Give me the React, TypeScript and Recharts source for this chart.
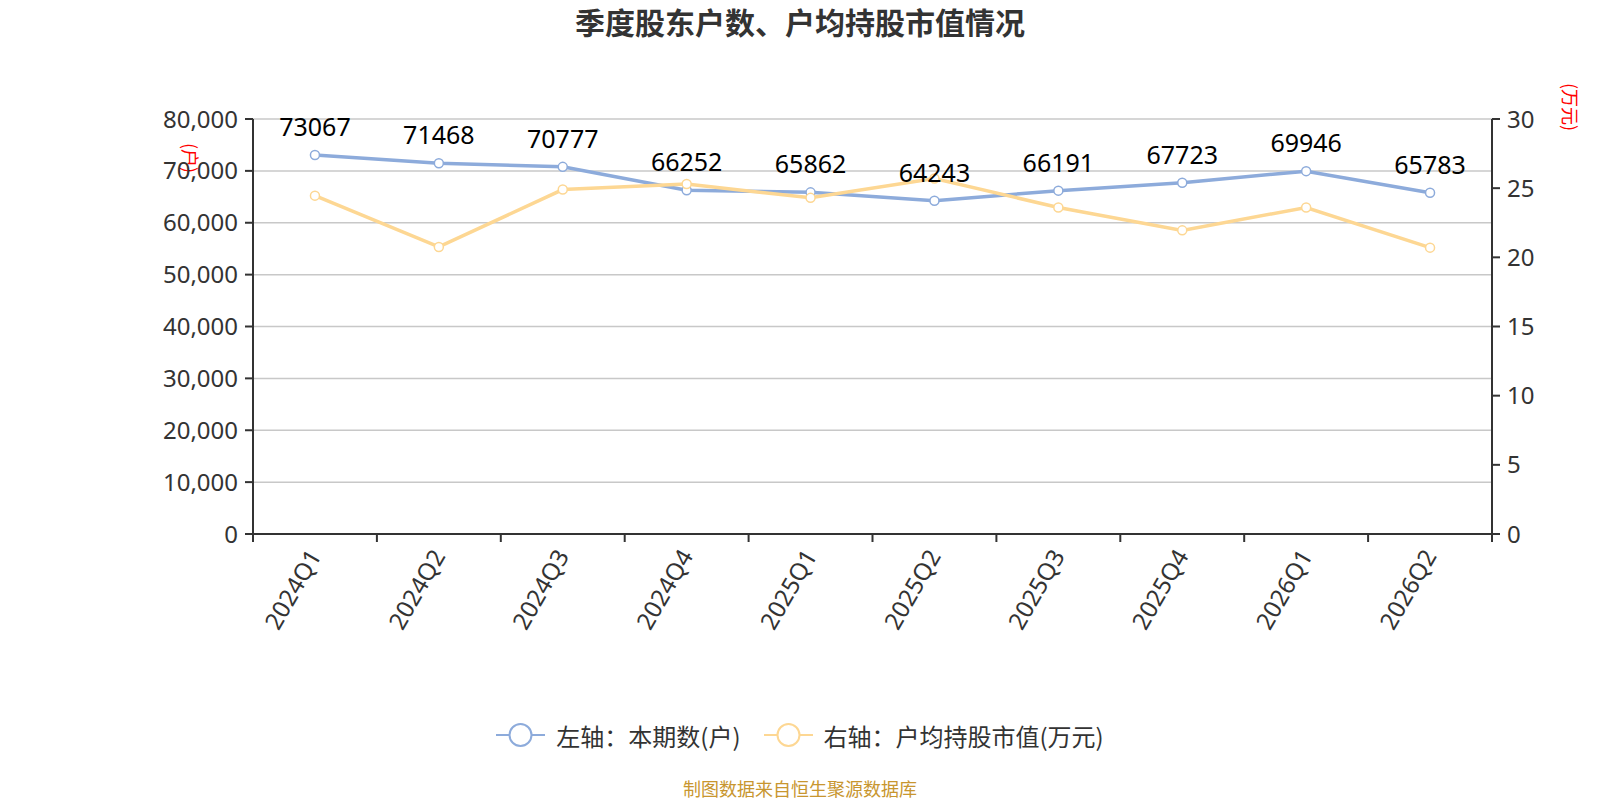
import React from "react";
import {
  LineChart,
  Line,
  XAxis,
  YAxis,
  CartesianGrid,
  Legend,
  LabelList,
} from "recharts";

const quarters = [
  "2024Q1",
  "2024Q2",
  "2024Q3",
  "2024Q4",
  "2025Q1",
  "2025Q2",
  "2025Q3",
  "2025Q4",
  "2026Q1",
  "2026Q2",
];
const holders = [73067, 71468, 70777, 66252, 65862, 64243, 66191, 67723, 69946, 65783];
const avgValue = [24.46, 20.75, 24.9, 25.3, 24.3, 25.7, 23.6, 21.95, 23.6, 20.7];

const leftTicks = [0, 10000, 20000, 30000, 40000, 50000, 60000, 70000, 80000];
const rightTicks = [0, 5, 10, 15, 20, 25, 30];

const seriesNames = ["左轴：本期数(户)", "右轴：户均持股市值(万元)"];

const BLUE = "#8dabdb";
const YELLOW = "#fdd793";
const FONT = '"Noto Sans", "Noto Sans CJK SC", sans-serif';
const CJK = '"Noto Sans CJK SC", "Noto Sans", sans-serif';

const data = quarters.map((q, i) => ({
  idx: i,
  quarter: q,
  holders: holders[i],
  avg: avgValue[i],
}));

// labels sit on the integers, tick marks on the half steps between bands
const xTicks: number[] = [];
quarters.forEach((_, i) => xTicks.push(i - 0.5, i));
xTicks.push(quarters.length - 0.5);

const XTick = (props: any) => {
  const { x, y, payload } = props;
  const v = payload.value;
  if (Number.isInteger(v)) {
    const tx = x - 1;
    const ty = y + 17;
    return (
      <text
        x={tx}
        y={ty}
        textAnchor="end"
        dominantBaseline="central"
        transform={`rotate(-60, ${tx}, ${ty})`}
        fontSize={24}
        fill="#333"
        fontFamily={FONT}
      >
        {quarters[v]}
      </text>
    );
  }
  return <line x1={x} y1={y} x2={x} y2={y + 8} stroke="#333" strokeWidth={2} />;
};

const renderLegend = (props: any) => {
  const items = [...props.payload].sort(
    (a: any, b: any) => seriesNames.indexOf(a.value) - seriesNames.indexOf(b.value)
  );
  return (
    <div
      style={{
        display: "flex",
        justifyContent: "center",
        alignItems: "center",
        height: 30,
        fontFamily: CJK,
        fontSize: 24,
        color: "#333",
      }}
    >
      {items.map((item: any, i: number) => (
        <div
          key={item.value}
          style={{ display: "flex", alignItems: "center", marginLeft: i ? 23 : 0 }}
        >
          <svg width={49} height={26} style={{ marginRight: 11 }}>
            <line x1={0} y1={13} x2={49} y2={13} stroke={item.color} strokeWidth={2} />
            <circle cx={24.5} cy={13} r={11} fill="#fff" stroke={item.color} strokeWidth={2} />
          </svg>
          <span>{item.value}</span>
        </div>
      ))}
    </div>
  );
};

const leftUnit = (props: any) => {
  const { viewBox } = props;
  const x = viewBox.x - 2;
  const y = viewBox.y + 39;
  return (
    <text
      x={x}
      y={y}
      textAnchor="middle"
      dominantBaseline="central"
      transform={`rotate(90, ${x}, ${y})`}
      fontSize={18}
      fill="#ff0000"
      fontFamily={CJK}
    >
      (户)
    </text>
  );
};

const rightUnit = (props: any) => {
  const { viewBox } = props;
  const x = viewBox.x + 79;
  const y = viewBox.y - 12;
  return (
    <text
      x={x}
      y={y}
      textAnchor="middle"
      dominantBaseline="central"
      transform={`rotate(90, ${x}, ${y})`}
      fontSize={18}
      fill="#ff0000"
      fontFamily={CJK}
    >
      (万元)
    </text>
  );
};

export default function App() {
  return (
    <div
      style={{
        position: "absolute",
        left: 0,
        top: 0,
        width: 1600,
        height: 800,
        background: "#fff",
        fontFamily: CJK,
      }}
    >
      <div
        style={{
          position: "absolute",
          top: -1,
          left: 0,
          width: 1600,
          textAlign: "center",
          fontSize: 30,
          fontWeight: "bold",
          color: "#333",
        }}
      >
        季度股东户数、户均持股市值情况
      </div>
      <LineChart
        width={1600}
        height={800}
        data={data}
        margin={{ top: 119, right: 48, left: 193, bottom: 136 }}
      >
        <CartesianGrid
          yAxisId="left"
          vertical={false}
          stroke="#c8c8c8"
          strokeWidth={1.5}
          horizontalValues={leftTicks}
        />
        <XAxis
          dataKey="idx"
          type="number"
          domain={[-0.5, quarters.length - 0.5]}
          ticks={xTicks}
          interval={0}
          tick={<XTick />}
          tickLine={false}
          tickSize={0}
          tickMargin={0}
          height={100}
          axisLine={{ stroke: "#333", strokeWidth: 2 }}
        />
        <YAxis
          yAxisId="left"
          domain={[0, 80000]}
          ticks={leftTicks}
          interval={0}
          width={60}
          tickFormatter={(v: number) => v.toLocaleString("en-US")}
          tick={{ fontSize: 24, fill: "#333", fontFamily: FONT }}
          tickSize={8}
          tickMargin={7}
          tickLine={{ stroke: "#333", strokeWidth: 2 }}
          axisLine={{ stroke: "#333", strokeWidth: 2 }}
          label={{ content: leftUnit }}
        />
        <YAxis
          yAxisId="right"
          orientation="right"
          domain={[0, 30]}
          ticks={rightTicks}
          interval={0}
          width={60}
          tick={{ fontSize: 24, fill: "#333", fontFamily: FONT }}
          tickSize={8}
          tickMargin={7}
          tickLine={{ stroke: "#333", strokeWidth: 2 }}
          axisLine={{ stroke: "#333", strokeWidth: 2 }}
          label={{ content: rightUnit }}
        />
        <Legend
          content={renderLegend}
          wrapperStyle={{ top: 720, left: 0, bottom: "auto", width: 1600 }}
        />
        <Line
          yAxisId="left"
          dataKey="holders"
          name={seriesNames[0]}
          stroke={BLUE}
          strokeWidth={3.5}
          dot={{ r: 4.5, fill: "#fff", stroke: BLUE, strokeWidth: 1.5 }}
          isAnimationActive={false}
        >
          <LabelList
            dataKey="holders"
            position="top"
            offset={19}
            fontSize={25}
            fill="#000"
            fontFamily={FONT}
          />
        </Line>
        <Line
          yAxisId="right"
          dataKey="avg"
          name={seriesNames[1]}
          stroke={YELLOW}
          strokeWidth={3.5}
          dot={{ r: 4.5, fill: "#fff", stroke: YELLOW, strokeWidth: 1.5 }}
          isAnimationActive={false}
        />
      </LineChart>
      <div
        style={{
          position: "absolute",
          top: 775,
          left: 0,
          width: 1600,
          textAlign: "center",
          fontSize: 18,
          color: "#c8962f",
        }}
      >
        制图数据来自恒生聚源数据库
      </div>
    </div>
  );
}
